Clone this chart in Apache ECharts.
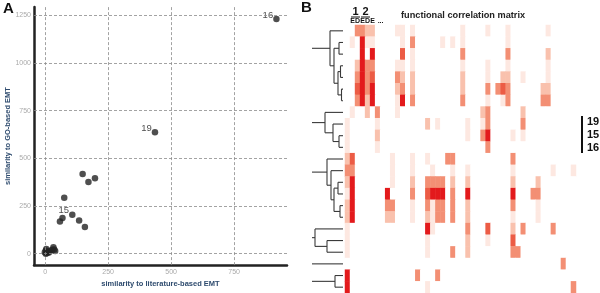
<!DOCTYPE html>
<html><head><meta charset="utf-8">
<script src="https://cdn.jsdelivr.net/npm/echarts@6/dist/echarts.min.js"></script>
<style>html,body{margin:0;padding:0;background:#fff}#c{width:600px;height:293px}</style>
</head><body><div id="c"></div>
<script>
// ---------- Panel A: scatter ----------
const xTicks = [0, 250, 500, 750];
const yTicks = [0, 250, 500, 750, 1000, 1250];
const simLit = [918, 436, 149, 172, 198, 76, 108, 69, 59, 135, 158, 3, 3, 20, 33, 40, -1, 8, 12, 28, 5, 15, 36];
const simGO  = [1230, 636, 418, 375, 395, 293, 204, 187, 169, 174, 140, 17, 0, 14, 34, 14, 7, 4, 10, 20, 24, 6, 22];
const pointNames = ['16', '19', '', '', '', '', '15', '', '', '', '', '', '', '', '', '', '', '', '', '', '', '', ''];

// ---------- Panel B: functional correlation matrix ----------
const colCount = 46;
const rowCount = 23;
// intensity level per cell (0 = white ... 5 = deep red), one string per row, one digit per column
const matrixRows = [
  "0033220000" + "1101000000" + "0001000010" + "0010000000" + "100000",
  "0105110000" + "0103000001" + "0101000000" + "0010000000" + "000000",
  "0005050000" + "0401000000" + "0003000000" + "0030000000" + "200000",
  "0025330000" + "1101000000" + "0001000010" + "0010000000" + "100000",
  "0035340000" + "3202000000" + "0002000010" + "0220010000" + "100000",
  "0045350000" + "2302000000" + "0002000030" + "3430000002" + "200000",
  "0035250000" + "1503000000" + "0003000010" + "0130000003" + "300000",
  "0100203000" + "1000000000" + "0000000230" + "0000020000" + "000000",
  "1000001000" + "0000002010" + "0000100130" + "0000030000" + "000000",
  "1000002000" + "0000000000" + "0000100350" + "0001010000" + "000000",
  "1000001000" + "0000000000" + "0000000030" + "0000000000" + "000000",
  "2400000001" + "0001001000" + "3300000000" + "0003000000" + "000000",
  "3300000001" + "0001000100" + "0100100000" + "0001000000" + "010001",
  "2500000001" + "0002003333" + "0200200000" + "0002000020" + "000000",
  "1500000050" + "0003004555" + "0300500000" + "0005000330" + "000000",
  "2500000033" + "0001003133" + "0300200000" + "0003000010" + "000000",
  "2500000022" + "0001002133" + "0300200000" + "0001000010" + "000000",
  "1000000000" + "0000005100" + "0000300040" + "0002030000" + "030000",
  "1000000000" + "0000001000" + "0000200010" + "0004000000" + "000000",
  "1000000000" + "0000001000" + "0300200000" + "0003300000" + "000000",
  "0000000000" + "0000000000" + "0000000000" + "0000000000" + "000300",
  "5000000000" + "0000300030" + "0000000000" + "0000000000" + "000000",
  "5000000000" + "0000001000" + "0000000000" + "0000000000" + "000003"
];
// dendrogram: [mergeHeight, childA, childB]; a number is a row (leaf)
const dendroTrees = [
  [13, 0, [9, [4, 1, 2], [5, [2.5, 3, 4], [1.5, 5, 6]]]],
  [18, 7, [10, 8, [4, 9, 10]]],
  [16, 11, [12, 12, [9, [5, 13, 14], [3, 15, 16]]]],
  [28, 17, [16, 18, 19]],
  20,
  [8, 21, 22]
];
const stubHeight = 31;
const headerNumbers = ['1', '2'];
const headerLetters = ['E', 'D', 'E', 'D', 'E', '...'];
const sideLabels = ['19', '15', '16'];

// ---------- build ----------
const scatterData = simLit.map((x, i) => ({ value: [x, simGO[i]], name: pointNames[i] }));
const heatData = [];
matrixRows.forEach((s, r) => { for (let c = 0; c < colCount; c++) heatData.push([c, r, +s[c]]); });
const segs = [];
function lay(node) {
  if (typeof node === 'number') return { h: 0, y: node };
  const a = lay(node[1]), b = lay(node[2]), h = node[0];
  segs.push([a.h, a.y, h, a.y]);
  segs.push([b.h, b.y, h, b.y]);
  segs.push([h, a.y, h, b.y]);
  return { h: h, y: (a.y + b.y) / 2 };
}
dendroTrees.forEach(t => { const r = lay(t); segs.push([r.h, r.y, stubHeight, r.y]); });

const FONT = 'Liberation Sans, Arial, sans-serif';
const graphics = [
  { type: 'text', left: 3, top: 1, style: { text: 'A', font: 'bold 15px ' + FONT, fill: '#111' } },
  { type: 'text', left: 301, top: 0, style: { text: 'B', font: 'bold 15px ' + FONT, fill: '#111' } },
  { type: 'text', x: 355.5, y: 11.5, style: { text: headerNumbers[0], font: 'bold 11px ' + FONT, fill: '#111', align: 'center', verticalAlign: 'middle' } },
  { type: 'text', x: 365.5, y: 11.5, style: { text: headerNumbers[1], font: 'bold 11px ' + FONT, fill: '#111', align: 'center', verticalAlign: 'middle' } },
  { type: 'line', shape: { x1: 351, y1: 17, x2: 360, y2: 17 }, style: { stroke: '#111', lineWidth: 1 } },
  { type: 'line', shape: { x1: 361, y1: 17, x2: 370, y2: 17 }, style: { stroke: '#111', lineWidth: 1 } },
  { type: 'text', x: 401, y: 15, style: { text: 'functional correlation matrix', font: 'bold 9.2px ' + FONT, fill: '#222', verticalAlign: 'middle' } },
  { type: 'rect', shape: { x: 581, y: 116, width: 2, height: 37 }, style: { fill: '#111' } },
  { type: 'text', x: 587, y: 122, style: { text: sideLabels[0], font: 'bold 11px ' + FONT, fill: '#111', verticalAlign: 'middle' } },
  { type: 'text', x: 587, y: 135, style: { text: sideLabels[1], font: 'bold 11px ' + FONT, fill: '#111', verticalAlign: 'middle' } },
  { type: 'text', x: 587, y: 148, style: { text: sideLabels[2], font: 'bold 11px ' + FONT, fill: '#111', verticalAlign: 'middle' } }
];
headerLetters.forEach((t, i) => graphics.push({ type: 'text', x: 352.5 + 5.03 * i, y: 21, style: { text: t, font: 'bold 7px ' + FONT, fill: '#111', align: i < 5 ? 'center' : 'left', verticalAlign: 'middle' } }));

const chart = echarts.init(document.getElementById('c'), null, { renderer: 'canvas' });
chart.setOption({
  animation: false,
  backgroundColor: '#fff',
  textStyle: { fontFamily: FONT },
  grid: [
    { left: 34, top: 7, width: 253, height: 265 },
    { left: 345, top: 25, width: 231, height: 268 },
    { left: 311, top: 25, width: 32, height: 268 }
  ],
  xAxis: [
    { type: 'value', gridIndex: 0, min: -44, max: 960,
      axisLine: { show: true, onZero: false, lineStyle: { color: '#222', width: 2.5 } },
      axisTick: { show: false }, splitLine: { show: false },
      axisLabel: { customValues: xTicks, color: '#aaa', fontSize: 7, margin: 3, formatter: v => String(v) },
      name: 'similarity to literature-based EMT', nameLocation: 'middle', nameGap: 9,
      nameTextStyle: { color: '#2e4b6e', fontWeight: 'bold', fontSize: 7.5 } },
    { type: 'category', gridIndex: 1, data: Array.from({ length: colCount }, (_, i) => String(i)), show: false },
    { type: 'value', gridIndex: 2, min: 0, max: 32, inverse: true, show: false }
  ],
  yAxis: [
    { type: 'value', gridIndex: 0, min: -60, max: 1293,
      axisLine: { show: true, onZero: false, lineStyle: { color: '#222', width: 2.5 } },
      axisTick: { show: false }, splitLine: { show: false },
      axisLabel: { customValues: yTicks, color: '#aaa', fontSize: 7, margin: 3, formatter: v => String(v) },
      name: 'similarity to GO-based EMT', nameLocation: 'middle', nameGap: 20,
      nameTextStyle: { color: '#2e4b6e', fontWeight: 'bold', fontSize: 7.5 } },
    { type: 'category', gridIndex: 1, inverse: true, data: Array.from({ length: rowCount }, (_, i) => String(i)), show: false },
    { type: 'value', gridIndex: 2, min: -0.5, max: 22.5, inverse: true, show: false }
  ],
  visualMap: {
    show: false, seriesIndex: 1, min: 0, max: 5, dimension: 2,
    inRange: { color: ['#ffffff', '#fde8e1', '#f9c1ad', '#f38f74', '#ec5c45', '#e31a1c'] }
  },
  series: [
    { type: 'scatter', xAxisIndex: 0, yAxisIndex: 0, data: scatterData, symbolSize: 6.5,
      itemStyle: { color: '#232323' },
      label: { show: true, position: 'left', distance: 0, offset: [0, -4], color: '#222', fontSize: 9.5,
               formatter: p => p.name },
      markLine: { silent: true, symbol: 'none', animation: false, label: { show: false },
        lineStyle: { type: [3, 2], color: '#8c8c8c', width: 0.8 },
        data: xTicks.map(v => ({ xAxis: v })).concat(yTicks.map(v => ({ yAxis: v }))) },
      z: 3 },
    { type: 'heatmap', xAxisIndex: 1, yAxisIndex: 1, data: heatData, itemStyle: { borderWidth: 0 },
      emphasis: { disabled: true } },
    { type: 'custom', xAxisIndex: 2, yAxisIndex: 2, data: segs, encode: { x: [0, 2], y: [1, 3] },
      renderItem: (params, api) => {
        const p1 = api.coord([api.value(0), api.value(1)]);
        const p2 = api.coord([api.value(2), api.value(3)]);
        return { type: 'line', shape: { x1: p1[0], y1: p1[1], x2: p2[0], y2: p2[1] },
                 style: { stroke: '#3a3a3a', lineWidth: 1.1 } };
      } }
  ],
  graphic: graphics
});
</script></body></html>
